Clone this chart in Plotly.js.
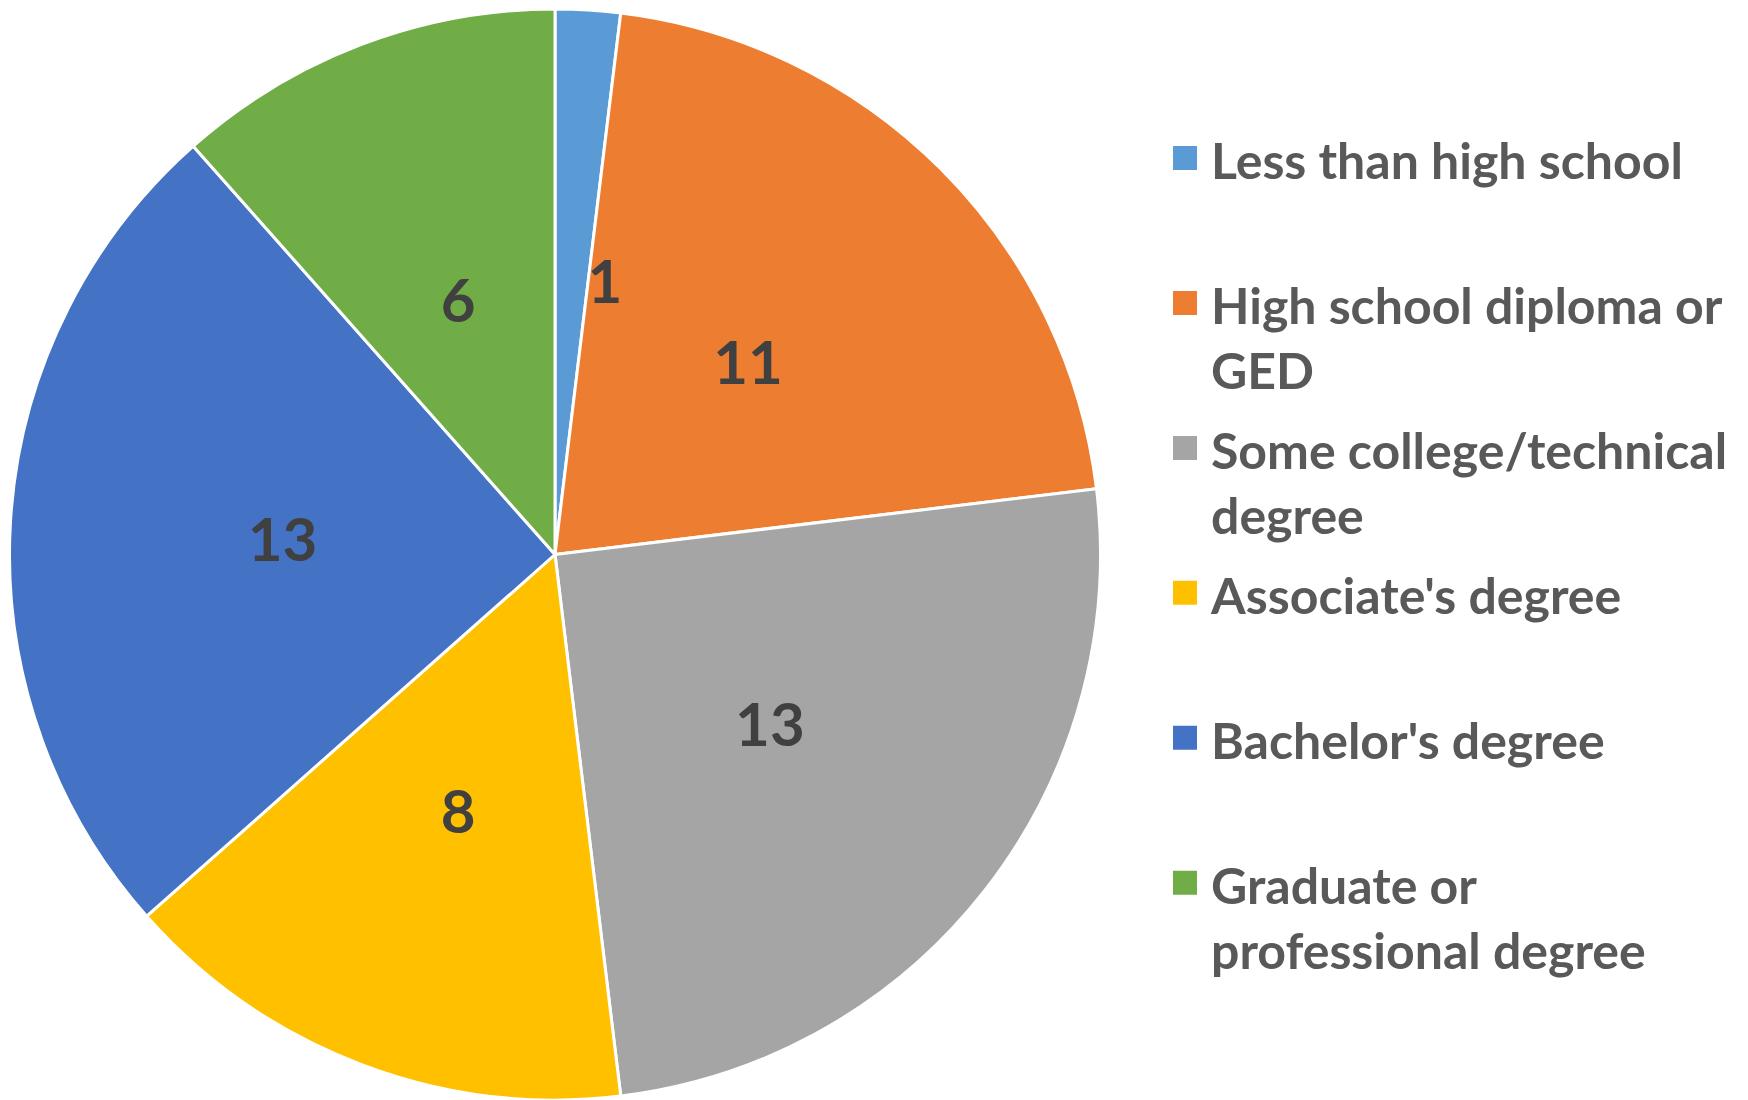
<!DOCTYPE html>
<html>
<head>
<meta charset="utf-8">
<script src="https://cdn.plot.ly/plotly-3.0.1.min.js"></script>
<style>
html, body { margin: 0; padding: 0; background: #ffffff; }
#chart { width: 1748px; height: 1100px; }
.legend .legendpie { transform: translate(20px, 0px) scale(2.25); vector-effect: non-scaling-stroke; }
</style>
</head>
<body>
<div id="chart"></div>
<script>
// ---- data ----
const categories = [
  'Less than high school',
  'High school diploma or<br>GED',
  'Some college/technical<br>degree',
  "Associate's degree",
  "Bachelor's degree",
  'Graduate or<br>professional degree'
];
const counts = [1, 11, 13, 8, 13, 6];
const sliceColors = ['#5B9BD5', '#ED7D31', '#A5A5A5', '#FFC000', '#4472C4', '#70AD47'];

// legend labels: every entry takes two lines so entries are evenly spaced
const legendLabels = categories.map(function (c) {
  const lines = c.split('<br>');
  while (lines.length < 2) lines.push(' ');
  return lines.map(function (l, i) {
    const st = i === 0 ? 'font-size:50px' : 'font-size:50px;baseline-shift:6px';
    return '<span style="' + st + '">' + l + '</span>';
  }).join('<br>');
});

const W = 1748, H = 1100;
const cx = 555, cy = 554.5, R = 545.5;
const labelFont = { family: 'Lato', size: 60, color: '#404040', weight: 'bold' };
const clear = counts.map(function () { return 'rgba(0,0,0,0)'; });
function dom(r) { return { x: [(cx - r) / W, (cx + r) / W], y: [(H - cy - r) / H, (H - cy + r) / H] }; }

const mainPie = {
  type: 'pie',
  labels: legendLabels,
  values: counts,
  sort: false,
  direction: 'clockwise',
  rotation: 0,
  marker: { colors: sliceColors, line: { color: '#ffffff', width: 3 } },
  textinfo: 'none',
  hoverinfo: 'skip',
  showlegend: true,
  domain: dom(R)
};

// transparent ring: its inside labels sit at mid radius of the main pie
const ringHole = 0.6, ringR = 273 / (1 - (1 - ringHole) / 2);
const labelRing = {
  type: 'pie',
  labels: legendLabels,
  values: counts,
  sort: false,
  direction: 'clockwise',
  rotation: 0,
  hole: ringHole,
  marker: { colors: clear, line: { width: 0 } },
  textinfo: 'value',
  textposition: counts.map(function (v, i) { return i === 0 ? 'none' : 'inside'; }),
  insidetextorientation: 'horizontal',
  insidetextfont: labelFont,
  hoverinfo: 'skip',
  showlegend: false,
  domain: dom(ringR)
};

// transparent small pie carrying the label of the thin first slice
const labelSmall = {
  type: 'pie',
  labels: legendLabels,
  values: counts,
  sort: false,
  direction: 'clockwise',
  rotation: 0,
  marker: { colors: clear, line: { width: 0 } },
  textinfo: 'value',
  textposition: counts.map(function (v, i) { return i === 0 ? 'outside' : 'none'; }),
  outsidetextfont: labelFont,
  hoverinfo: 'skip',
  showlegend: false,
  domain: dom(239)
};

const layout = {
  width: W,
  height: H,
  margin: { l: 0, r: 0, t: 0, b: 0 },
  paper_bgcolor: '#ffffff',
  hovermode: false,
  showlegend: true,
  legend: {
    x: 1165 / W,
    y: 1 - 116 / H,
    xanchor: 'left',
    yanchor: 'top',
    valign: 'top',
    itemwidth: 36,
    traceorder: 'normal',
    bgcolor: 'rgba(0,0,0,0)',
    font: { family: 'Lato', size: 54.6, color: '#595959', weight: 'bold' }
  }
};

Plotly.newPlot('chart', [mainPie, labelRing, labelSmall], layout, { staticPlot: true, displayModeBar: false });
</script>
</body>
</html>
